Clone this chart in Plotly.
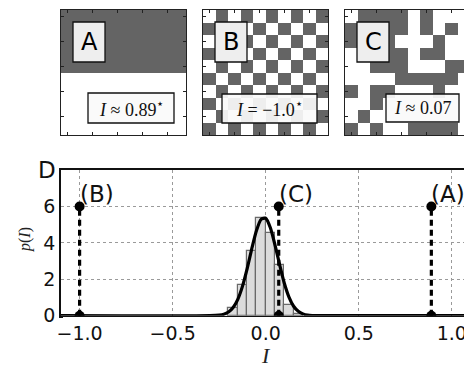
import plotly.graph_objects as go

# ---------------- data ----------------
grid_a = [
    [1, 1, 1, 1, 1, 1, 1, 1, 1, 1],
    [1, 1, 1, 1, 1, 1, 1, 1, 1, 1],
    [1, 1, 1, 1, 1, 1, 1, 1, 1, 1],
    [1, 1, 1, 1, 1, 1, 1, 1, 1, 1],
    [1, 1, 1, 1, 1, 1, 1, 1, 1, 1],
    [0, 0, 0, 0, 0, 0, 0, 0, 0, 0],
    [0, 0, 0, 0, 0, 0, 0, 0, 0, 0],
    [0, 0, 0, 0, 0, 0, 0, 0, 0, 0],
    [0, 0, 0, 0, 0, 0, 0, 0, 0, 0],
    [0, 0, 0, 0, 0, 0, 0, 0, 0, 0],
]
grid_b = [
    [0, 1, 0, 1, 0, 1, 0, 1, 0, 1],
    [1, 0, 1, 0, 1, 0, 1, 0, 1, 0],
    [0, 1, 0, 1, 0, 1, 0, 1, 0, 1],
    [1, 0, 1, 0, 1, 0, 1, 0, 1, 0],
    [0, 1, 0, 1, 0, 1, 0, 1, 0, 1],
    [1, 0, 1, 0, 1, 0, 1, 0, 1, 0],
    [0, 1, 0, 1, 0, 1, 0, 1, 0, 1],
    [1, 0, 1, 0, 1, 0, 1, 0, 1, 0],
    [0, 1, 0, 1, 0, 1, 0, 1, 0, 1],
    [1, 0, 1, 0, 1, 0, 1, 0, 1, 0],
]
grid_c = [
    [0, 1, 1, 1, 1, 0, 1, 0, 0, 0],
    [1, 1, 1, 1, 1, 0, 1, 0, 1, 0],
    [1, 1, 1, 1, 0, 0, 0, 1, 0, 0],
    [0, 1, 1, 1, 1, 0, 1, 1, 0, 0],
    [0, 0, 1, 1, 1, 0, 0, 0, 1, 1],
    [0, 0, 0, 0, 1, 1, 1, 1, 1, 0],
    [1, 0, 1, 1, 0, 0, 0, 1, 0, 0],
    [0, 0, 1, 0, 0, 0, 0, 0, 0, 0],
    [0, 1, 0, 0, 0, 0, 0, 0, 0, 0],
    [1, 0, 1, 0, 0, 1, 1, 1, 1, 0],
]
panel_letters = ["A", "B", "C"]
panel_texts = ["<i>I</i> ≈ 0.89<sup>⋆</sup>", "<i>I</i> = −1.0<sup>⋆</sup>", "<i>I</i> ≈ 0.07"]

hist_centers = [-0.175, -0.125, -0.075, -0.025, 0.025, 0.075, 0.125, 0.175]
hist_heights = [0.40, 1.67, 3.58, 5.35, 4.55, 2.76, 0.60, 0.10]
hist_width = 0.05

curve_x = [-1.1, -0.3, -0.25, -0.225, -0.2, -0.175, -0.15, -0.125, -0.1, -0.075, -0.05, -0.025,
           0.0, 0.025, 0.05, 0.075, 0.1, 0.125, 0.15, 0.175, 0.2, 0.225, 0.25, 0.3, 1.1]
curve_y = [0.0, 0.0, 0.03, 0.08, 0.20, 0.45, 0.90, 1.61, 2.57, 3.67, 4.66, 5.29,
           5.35, 4.83, 3.88, 2.79, 1.78, 1.02, 0.52, 0.24, 0.10, 0.03, 0.01, 0.0, 0.0]

stem_x = [-1.0, 0.07, 0.89]
stem_top = 6
stem_labels = ["(B)", "(C)", "(A)"]

x_ticks = [-1.0, -0.5, 0.0, 0.5, 1.0]
x_ticktext = ["−1.0", "−0.5", "0.0", "0.5", "1.0"]
y_ticks = [0, 2, 4, 6]

# ---------------- layout helpers ----------------
W, H = 464, 369
def px(x):
    return x / W
def py(y):
    return 1 - y / H

DARK = "#646464"
fig = go.Figure()

panel_left = [61, 203, 345]
P_TOP, P_SIZE = 10, 125
grids = [grid_a, grid_b, grid_c]

for i, g in enumerate(grids):
    n = i + 2
    fig.add_trace(go.Heatmap(
        z=g, x=list(range(10)), y=list(range(10)),
        colorscale=[[0, "white"], [1, DARK]], zmin=0, zmax=1,
        showscale=False, hoverinfo="skip",
        xaxis=f"x{n}", yaxis=f"y{n}"))
    x0 = panel_left[i]
    x1 = min(x0 + P_SIZE, W)
    xr_end = -0.5 + (x1 - x0) / 12.5
    common = dict(showline=True, linecolor="#222", linewidth=1.2,
                  ticks="inside", ticklen=3, tickcolor="#222", tickwidth=1,
                  tickvals=[0, 2, 4, 6, 8], showticklabels=False,
                  showgrid=False, zeroline=False, automargin=False, fixedrange=True)
    fig.layout[f"xaxis{n}"] = dict(domain=[px(x0), px(x1)], range=[-0.5, xr_end],
                                   anchor=f"y{n}", mirror="ticks", **common)
    fig.layout[f"yaxis{n}"] = dict(domain=[py(P_TOP + P_SIZE), py(P_TOP)], range=[9.5, -0.5],
                                   anchor=f"x{n}", mirror=("ticks" if i < 2 else False), **common)

# label boxes inside panels
letter_boxes = [(12, 12, 44, 52), (12, 12, 44, 52), (12, 12, 44, 52)]
text_boxes = [(27, 83, 113, 113), (19, 84, 114, 113), (41, 84, 114, 112)]
for i in range(3):
    x0 = panel_left[i]
    a, b, c, d = letter_boxes[i]
    fig.add_shape(type="rect", xref="paper", yref="paper",
                  x0=px(x0 + a), x1=px(x0 + c), y0=py(P_TOP + b), y1=py(P_TOP + d),
                  fillcolor="#eeeeee", line=dict(color="#111", width=1.3))
    fig.add_annotation(xref="paper", yref="paper", x=px(x0 + (a + c) / 2), y=py(P_TOP + (b + d) / 2),
                       text=panel_letters[i], showarrow=False, xanchor="center", yanchor="middle",
                       font=dict(family="DejaVu Sans", size=24, color="#000"))
    a, b, c, d = text_boxes[i]
    fig.add_shape(type="rect", xref="paper", yref="paper",
                  x0=px(x0 + a), x1=px(x0 + c), y0=py(P_TOP + b), y1=py(P_TOP + d),
                  fillcolor="rgba(250,250,250,0.92)", line=dict(color="#111", width=1.3))
    fig.add_annotation(xref="paper", yref="paper", x=px(x0 + (a + c) / 2), y=py(P_TOP + (b + d) / 2),
                       text=panel_texts[i], showarrow=False, xanchor="center", yanchor="middle",
                       font=dict(family="Liberation Serif", size=18, color="#111"))

# ---------------- panel D ----------------
fig.add_trace(go.Bar(x=hist_centers, y=hist_heights, width=hist_width,
                     marker=dict(color="#dcdcdc", line=dict(color="#6a6a6a", width=1.2)),
                     hoverinfo="skip"))
fig.add_trace(go.Scatter(x=curve_x, y=curve_y, mode="lines",
                         line=dict(color="black", width=3.2, shape="spline", smoothing=0.6),
                         hoverinfo="skip"))
for sx in stem_x:
    fig.add_trace(go.Scatter(x=[sx, sx], y=[0, stem_top], mode="lines+markers",
                             line=dict(color="black", width=3.2, dash="6px,4px"),
                             marker=dict(color="black", size=10),
                             hoverinfo="skip"))
for sx, lab in zip(stem_x, stem_labels):
    fig.add_annotation(x=sx, y=stem_top, text=lab, showarrow=False,
                       xanchor="left", yanchor="bottom", xshift=-2, yshift=-3,
                       font=dict(family="DejaVu Sans", size=23, color="#111"))

D_L, D_T, D_B = 61, 170, 315.7
x_per = 186.1
x_lo = -1.1
x_hi = x_lo + (W - D_L) / x_per

# white strip just under the x axis hides the lower half of the stem base markers
fig.add_shape(type="rect", xref="paper", yref="paper", layer="above",
              x0=px(D_L + 2), x1=1, y0=py(322), y1=py(D_B + 1.3),
              fillcolor="white", line=dict(width=0))

fig.update_layout(
    xaxis=dict(domain=[px(D_L), 1], range=[x_lo, x_hi], tickvals=x_ticks, ticktext=x_ticktext,
               showline=True, linecolor="#111", linewidth=1.5, mirror=True,
               showgrid=True, gridcolor="#9a9a9a", griddash="dot", gridwidth=1,
               zeroline=False, ticks="", automargin=False, ticklabeloverflow="allow",
               tickfont=dict(family="DejaVu Sans", size=19, color="#111"), anchor="y"),
    yaxis=dict(domain=[py(D_B), py(D_T)], range=[0, 8], tickvals=y_ticks,
               showline=True, linecolor="#111", linewidth=1.5, mirror=False,
               showgrid=True, gridcolor="#9a9a9a", griddash="dot", gridwidth=1,
               zeroline=False, ticks="", automargin=False, ticklabeloverflow="allow",
               tickfont=dict(family="DejaVu Sans", size=19, color="#111"), anchor="x"),
)

fig.add_annotation(xref="paper", yref="paper", x=px(47), y=py(170), text="D", showarrow=False,
                   xanchor="center", yanchor="middle", font=dict(family="DejaVu Sans", size=23, color="#111"))
fig.add_annotation(xref="paper", yref="paper", x=px(25), y=py(240), text="<i>p</i>(<i>I</i>)", showarrow=False,
                   textangle=-90, xanchor="center", yanchor="middle",
                   font=dict(family="Liberation Serif", size=16, color="#222"))
fig.add_annotation(xref="paper", yref="paper", x=px(266), y=py(355), text="<i>I</i>", showarrow=False,
                   xanchor="center", yanchor="middle",
                   font=dict(family="Liberation Serif", size=22, color="#222"))

fig.update_layout(width=W, height=H, margin=dict(l=0, r=0, t=0, b=0),
                  template="none", paper_bgcolor="white", plot_bgcolor="white",
                  showlegend=False, bargap=0)

fig.write_html("out.html", config={"displayModeBar": False},
               post_script="document.body.style.margin='0';document.body.style.padding='0';"
                           "document.body.style.overflow='hidden';")
